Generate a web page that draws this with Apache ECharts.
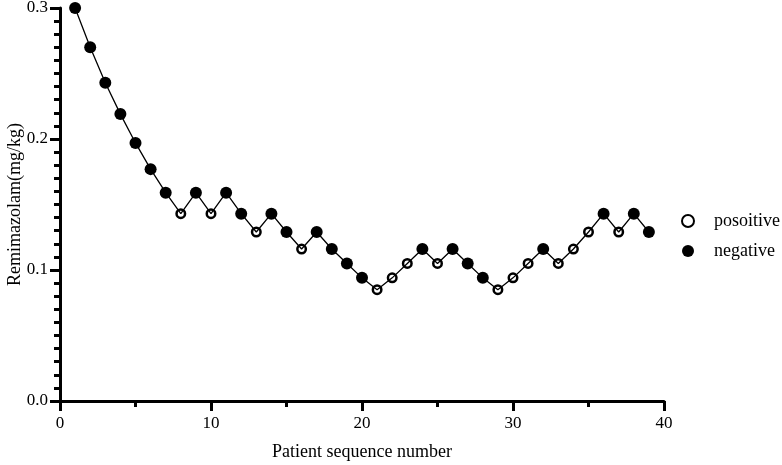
<!DOCTYPE html>
<html>
<head>
<meta charset="utf-8">
<script src="https://cdn.jsdelivr.net/npm/echarts@6/dist/echarts.min.js"></script>
<style>
  html, body { margin: 0; padding: 0; background: #fff; }
  #chart { width: 782px; height: 465px; }
</style>
</head>
<body>
<div id="chart"></div>
<script>
// patient order, dose given, and response (P = posoitive, N = negative)
var patientNo = [1, 2, 3, 4, 5, 6, 7, 8, 9, 10, 11, 12, 13, 14, 15, 16, 17, 18, 19, 20,
                 21, 22, 23, 24, 25, 26, 27, 28, 29, 30, 31, 32, 33, 34, 35, 36, 37, 38, 39];
var dose = [0.300, 0.270, 0.243, 0.219, 0.197, 0.177, 0.159, 0.143, 0.159, 0.143,
            0.159, 0.143, 0.129, 0.143, 0.129, 0.116, 0.129, 0.116, 0.105, 0.094,
            0.085, 0.094, 0.105, 0.116, 0.105, 0.116, 0.105, 0.094, 0.085, 0.094,
            0.105, 0.116, 0.105, 0.116, 0.129, 0.143, 0.129, 0.143, 0.129];
var outcome = ['N', 'N', 'N', 'N', 'N', 'N', 'N', 'P', 'N', 'P',
               'N', 'N', 'P', 'N', 'N', 'P', 'N', 'N', 'N', 'N',
               'P', 'P', 'P', 'N', 'P', 'N', 'N', 'N', 'P', 'P',
               'P', 'N', 'P', 'P', 'P', 'N', 'P', 'N', 'N'];
var legendNames = ['posoitive', 'negative'];

var font = '"Liberation Serif", "Times New Roman", serif';

var linePts = [];
var posPts = [];
var negPts = [];
patientNo.forEach(function (n, i) {
    var pt = [n, dose[i]];
    linePts.push(pt);
    if (outcome[i] === 'P') {
        posPts.push(pt);
    } else {
        negPts.push(pt);
    }
});

var myChart = echarts.init(document.getElementById('chart'));
var option = {
    animation: false,
    grid: {left: 60, right: 118, top: 8, bottom: 64, containLabel: false, outerBoundsMode: 'none'},
    legend: {
        data: legendNames,
        orient: 'vertical',
        left: 681,
        top: 212,
        padding: 0,
        itemWidth: 12,
        itemHeight: 12,
        itemGap: 12,
        textStyle: {fontFamily: font, fontSize: 18, color: '#000', padding: [0, 0, 0, 15]}
    },
    xAxis: {
        type: 'value',
        min: 0,
        max: 40,
        interval: 10,
        name: 'Patient sequence number',
        nameLocation: 'middle',
        nameGap: 42,
        nameMoveOverlap: false,
        nameTextStyle: {fontFamily: font, fontSize: 18, color: '#000'},
        axisLine: {lineStyle: {color: '#000', width: 3}},
        axisTick: {length: 10, lineStyle: {color: '#000', width: 3}},
        minorTick: {show: true, splitNumber: 2, length: 6, lineStyle: {color: '#000', width: 3}},
        axisLabel: {fontFamily: font, fontSize: 17, color: '#000', margin: 14},
        splitLine: {show: false}
    },
    yAxis: {
        type: 'value',
        min: 0,
        max: 0.3,
        interval: 0.1,
        name: 'Remimazolam(mg/kg)',
        nameLocation: 'middle',
        nameGap: 36,
        nameMoveOverlap: false,
        nameTextStyle: {fontFamily: font, fontSize: 18, color: '#000'},
        axisLine: {lineStyle: {color: '#000', width: 3}},
        axisTick: {length: 10, lineStyle: {color: '#000', width: 3}},
        minorTick: {show: true, splitNumber: 10, length: 6, lineStyle: {color: '#000', width: 3}},
        axisLabel: {
            fontFamily: font, fontSize: 17, color: '#000', margin: 12,
            formatter: function (v) { return v.toFixed(1); }
        },
        splitLine: {show: false}
    },
    series: [
        {
            name: 'path',
            type: 'line',
            data: linePts,
            symbol: 'none',
            lineStyle: {color: '#000', width: 1.3},
            z: 1
        },
        {
            name: 'posoitive',
            type: 'scatter',
            data: posPts,
            symbol: 'circle',
            symbolSize: 8.5,
            itemStyle: {color: 'rgba(255,255,255,0)', borderColor: '#000', borderWidth: 2.5, opacity: 1},
            z: 3
        },
        {
            name: 'negative',
            type: 'scatter',
            data: negPts,
            symbol: 'circle',
            symbolSize: 12,
            itemStyle: {color: '#000', opacity: 1},
            z: 3
        }
    ]
};
myChart.setOption(option);
</script>
</body>
</html>
